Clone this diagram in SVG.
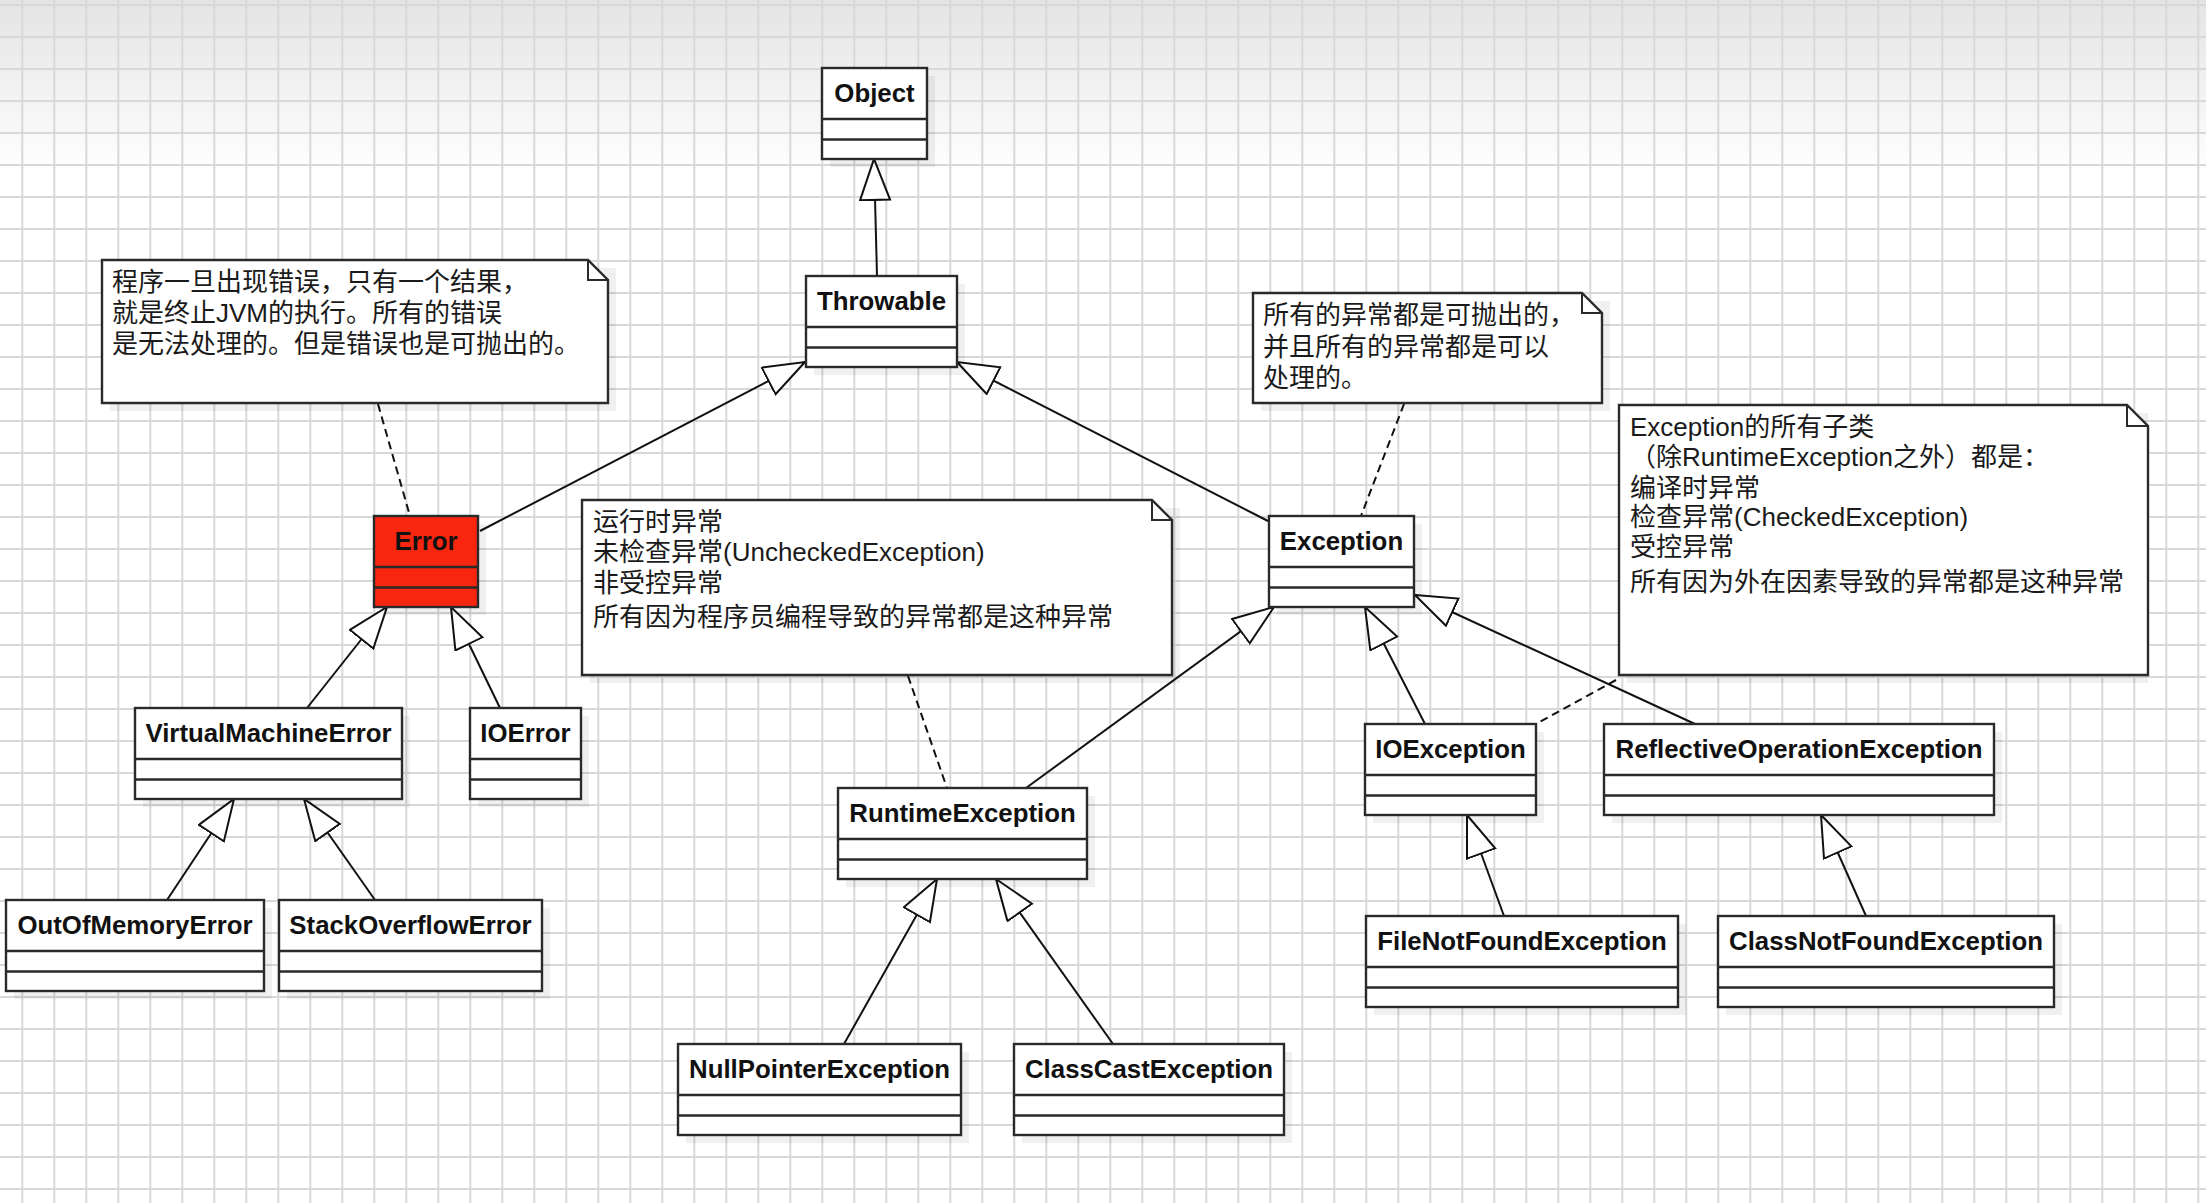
<svg xmlns="http://www.w3.org/2000/svg" width="2206" height="1203" viewBox="0 0 2206 1203">
<defs>
<linearGradient id="bg" x1="0" y1="0" x2="0" y2="1" gradientUnits="objectBoundingBox">
<stop offset="0" stop-color="#e4e4e4"/>
<stop offset="1" stop-color="#ffffff"/>
</linearGradient>
<pattern id="grid" patternUnits="userSpaceOnUse" x="21.3" y="4" width="32" height="32">
<rect x="0" y="0" width="32" height="2" fill="#d8d8d8"/>
<rect x="0" y="0" width="2" height="32" fill="#d8d8d8"/>
</pattern>
<marker id="gen" markerUnits="userSpaceOnUse" markerWidth="46" markerHeight="34" refX="42" refY="16" orient="auto">
<path d="M1,1 L42,16 L1,31 Z" fill="#ffffff" stroke="#111111" stroke-width="2" stroke-linejoin="miter"/>
</marker>
<style>
.box{fill:#ffffff;stroke:#2a2a2a;stroke-width:2.4}
.red{fill:#f8260f}
.div{stroke:#2a2a2a;stroke-width:2.4}
.sh{fill:#000000;fill-opacity:0.06}
.lbl{font-family:"Liberation Sans",Arial,sans-serif;font-weight:bold;font-size:25.8px;fill:#111111;text-anchor:middle}
.note{fill:#ffffff;stroke:#2a2a2a;stroke-width:2.4}
.fold{fill:none;stroke:#2a2a2a;stroke-width:2}
.nt{font-family:"Liberation Sans","Noto Sans CJK SC",sans-serif;font-size:26px;fill:#1a1a1a}
.gl{stroke:#111111;stroke-width:2;fill:none;marker-end:url(#gen)}
.dl{stroke:#111111;stroke-width:2;fill:none;stroke-dasharray:8 5}
</style>
</defs>
<rect x="0" y="0" width="2206" height="1203" fill="#ffffff"/>
<rect x="0" y="0" width="2206" height="175" fill="url(#bg)"/>
<rect x="0" y="0" width="2206" height="1203" fill="url(#grid)"/>

<g id="connectors">
<line class="gl" x1="877" y1="276" x2="874" y2="159"/>
<line class="gl" x1="480" y1="531" x2="805" y2="362"/>
<line class="gl" x1="1268" y1="521" x2="957" y2="362"/>
<line class="gl" x1="307" y1="708" x2="387" y2="607"/>
<line class="gl" x1="500" y1="708" x2="451" y2="607"/>
<line class="gl" x1="167" y1="900" x2="234" y2="799"/>
<line class="gl" x1="375" y1="900" x2="304" y2="799"/>
<line class="gl" x1="1026" y1="788" x2="1274" y2="607"/>
<line class="gl" x1="1425" y1="724" x2="1365" y2="607"/>
<line class="gl" x1="1695" y1="724" x2="1415" y2="595"/>
<line class="gl" x1="844" y1="1044" x2="937" y2="879"/>
<line class="gl" x1="1113" y1="1044" x2="996" y2="879"/>
<line class="gl" x1="1504" y1="916" x2="1467" y2="815"/>
<line class="gl" x1="1866" y1="916" x2="1821" y2="815"/>
<line class="dl" x1="378" y1="404" x2="410" y2="516"/>
<line class="dl" x1="908" y1="676" x2="947" y2="788"/>
<line class="dl" x1="1404" y1="404" x2="1361" y2="516"/>
<line class="dl" x1="1616" y1="680" x2="1536" y2="724"/>
</g>

<g id="note-error">
<rect class="sh" x="110" y="268" width="506" height="143"/>
<path class="note" d="M102,260 H588 L608,280 V403 H102 Z"/>
<path class="fold" d="M588,260 V280 H608"/>
<text class="nt" x="112" y="291">程序一旦出现错误，只有一个结果，</text>
<text class="nt" x="112" y="322">就是终止JVM的执行。所有的错误</text>
<text class="nt" x="112" y="353">是无法处理的。但是错误也是可抛出的。</text>
</g>

<g id="note-runtime">
<rect class="sh" x="590" y="508" width="590" height="175"/>
<path class="note" d="M582,500 H1152 L1172,520 V675 H582 Z"/>
<path class="fold" d="M1152,500 V520 H1172"/>
<text class="nt" x="593" y="531">运行时异常</text>
<text class="nt" x="593" y="561">未检查异常(UncheckedException)</text>
<text class="nt" x="593" y="592">非受控异常</text>
<text class="nt" x="593" y="626">所有因为程序员编程导致的异常都是这种异常</text>
</g>

<g id="note-exception">
<rect class="sh" x="1261" y="301" width="349" height="110"/>
<path class="note" d="M1253,293 H1582 L1602,313 V403 H1253 Z"/>
<path class="fold" d="M1582,293 V313 H1602"/>
<text class="nt" x="1263" y="324">所有的异常都是可抛出的，</text>
<text class="nt" x="1263" y="356">并且所有的异常都是可以</text>
<text class="nt" x="1263" y="387">处理的。</text>
</g>

<g id="note-checked">
<rect class="sh" x="1627" y="413" width="521" height="270"/>
<path class="note" d="M1619,405 H2127 L2148,426 V675 H1619 Z"/>
<path class="fold" d="M2127,405 V426 H2148"/>
<text class="nt" x="1630" y="436">Exception的所有子类</text>
<text class="nt" x="1630" y="466">（除RuntimeException之外）都是：</text>
<text class="nt" x="1630" y="497">编译时异常</text>
<text class="nt" x="1630" y="526">检查异常(CheckedException)</text>
<text class="nt" x="1630" y="556">受控异常</text>
<text class="nt" x="1630" y="591">所有因为外在因素导致的异常都是这种异常</text>
</g>

<g id="Object">
<rect class="sh" x="830" y="76" width="105" height="91"/>
<rect class="box" x="822" y="68" width="105" height="91"/>
<path class="div" d="M822,119 H927 M822,139.5 H927"/>
<text class="lbl" x="874.5" y="101.5">Object</text>
</g>

<g id="Throwable">
<rect class="sh" x="814" y="284" width="151" height="91"/>
<rect class="box" x="806" y="276" width="151" height="91"/>
<path class="div" d="M806,327 H957 M806,347.5 H957"/>
<text class="lbl" x="881.5" y="309.5">Throwable</text>
</g>

<g id="Error">
<rect class="sh" x="382" y="524" width="104" height="91"/>
<rect class="box red" x="374" y="516" width="104" height="91"/>
<path class="div" d="M374,567 H478 M374,587.5 H478"/>
<text class="lbl" x="426" y="549.5" fill="#1a0505">Error</text>
</g>

<g id="Exception">
<rect class="sh" x="1277" y="524" width="145" height="91"/>
<rect class="box" x="1269" y="516" width="145" height="91"/>
<path class="div" d="M1269,567 H1414 M1269,587.5 H1414"/>
<text class="lbl" x="1341.5" y="549.5">Exception</text>
</g>

<g id="VirtualMachineError">
<rect class="sh" x="143" y="716" width="267" height="91"/>
<rect class="box" x="135" y="708" width="267" height="91"/>
<path class="div" d="M135,759 H402 M135,779.5 H402"/>
<text class="lbl" x="268.5" y="741.5">VirtualMachineError</text>
</g>

<g id="IOError">
<rect class="sh" x="478" y="716" width="111" height="91"/>
<rect class="box" x="470" y="708" width="111" height="91"/>
<path class="div" d="M470,759 H581 M470,779.5 H581"/>
<text class="lbl" x="525.5" y="741.5">IOError</text>
</g>

<g id="RuntimeException">
<rect class="sh" x="846" y="796" width="249" height="91"/>
<rect class="box" x="838" y="788" width="249" height="91"/>
<path class="div" d="M838,839 H1087 M838,859.5 H1087"/>
<text class="lbl" x="962.5" y="821.5">RuntimeException</text>
</g>

<g id="IOException">
<rect class="sh" x="1373" y="732" width="171" height="91"/>
<rect class="box" x="1365" y="724" width="171" height="91"/>
<path class="div" d="M1365,775 H1536 M1365,795.5 H1536"/>
<text class="lbl" x="1450.5" y="757.5">IOException</text>
</g>

<g id="ReflectiveOperationException">
<rect class="sh" x="1612" y="732" width="390" height="91"/>
<rect class="box" x="1604" y="724" width="390" height="91"/>
<path class="div" d="M1604,775 H1994 M1604,795.5 H1994"/>
<text class="lbl" x="1799" y="757.5">ReflectiveOperationException</text>
</g>

<g id="OutOfMemoryError">
<rect class="sh" x="14" y="908" width="258" height="91"/>
<rect class="box" x="6" y="900" width="258" height="91"/>
<path class="div" d="M6,951 H264 M6,971.5 H264"/>
<text class="lbl" x="135" y="933.5">OutOfMemoryError</text>
</g>

<g id="StackOverflowError">
<rect class="sh" x="287" y="908" width="263" height="91"/>
<rect class="box" x="279" y="900" width="263" height="91"/>
<path class="div" d="M279,951 H542 M279,971.5 H542"/>
<text class="lbl" x="410.5" y="933.5">StackOverflowError</text>
</g>

<g id="FileNotFoundException">
<rect class="sh" x="1374" y="924" width="312" height="91"/>
<rect class="box" x="1366" y="916" width="312" height="91"/>
<path class="div" d="M1366,967 H1678 M1366,987.5 H1678"/>
<text class="lbl" x="1522" y="949.5">FileNotFoundException</text>
</g>

<g id="ClassNotFoundException">
<rect class="sh" x="1726" y="924" width="336" height="91"/>
<rect class="box" x="1718" y="916" width="336" height="91"/>
<path class="div" d="M1718,967 H2054 M1718,987.5 H2054"/>
<text class="lbl" x="1886" y="949.5">ClassNotFoundException</text>
</g>

<g id="NullPointerException">
<rect class="sh" x="686" y="1052" width="283" height="91"/>
<rect class="box" x="678" y="1044" width="283" height="91"/>
<path class="div" d="M678,1095 H961 M678,1115.5 H961"/>
<text class="lbl" x="819.5" y="1077.5">NullPointerException</text>
</g>

<g id="ClassCastException">
<rect class="sh" x="1022" y="1052" width="270" height="91"/>
<rect class="box" x="1014" y="1044" width="270" height="91"/>
<path class="div" d="M1014,1095 H1284 M1014,1115.5 H1284"/>
<text class="lbl" x="1149" y="1077.5">ClassCastException</text>
</g>
</svg>
